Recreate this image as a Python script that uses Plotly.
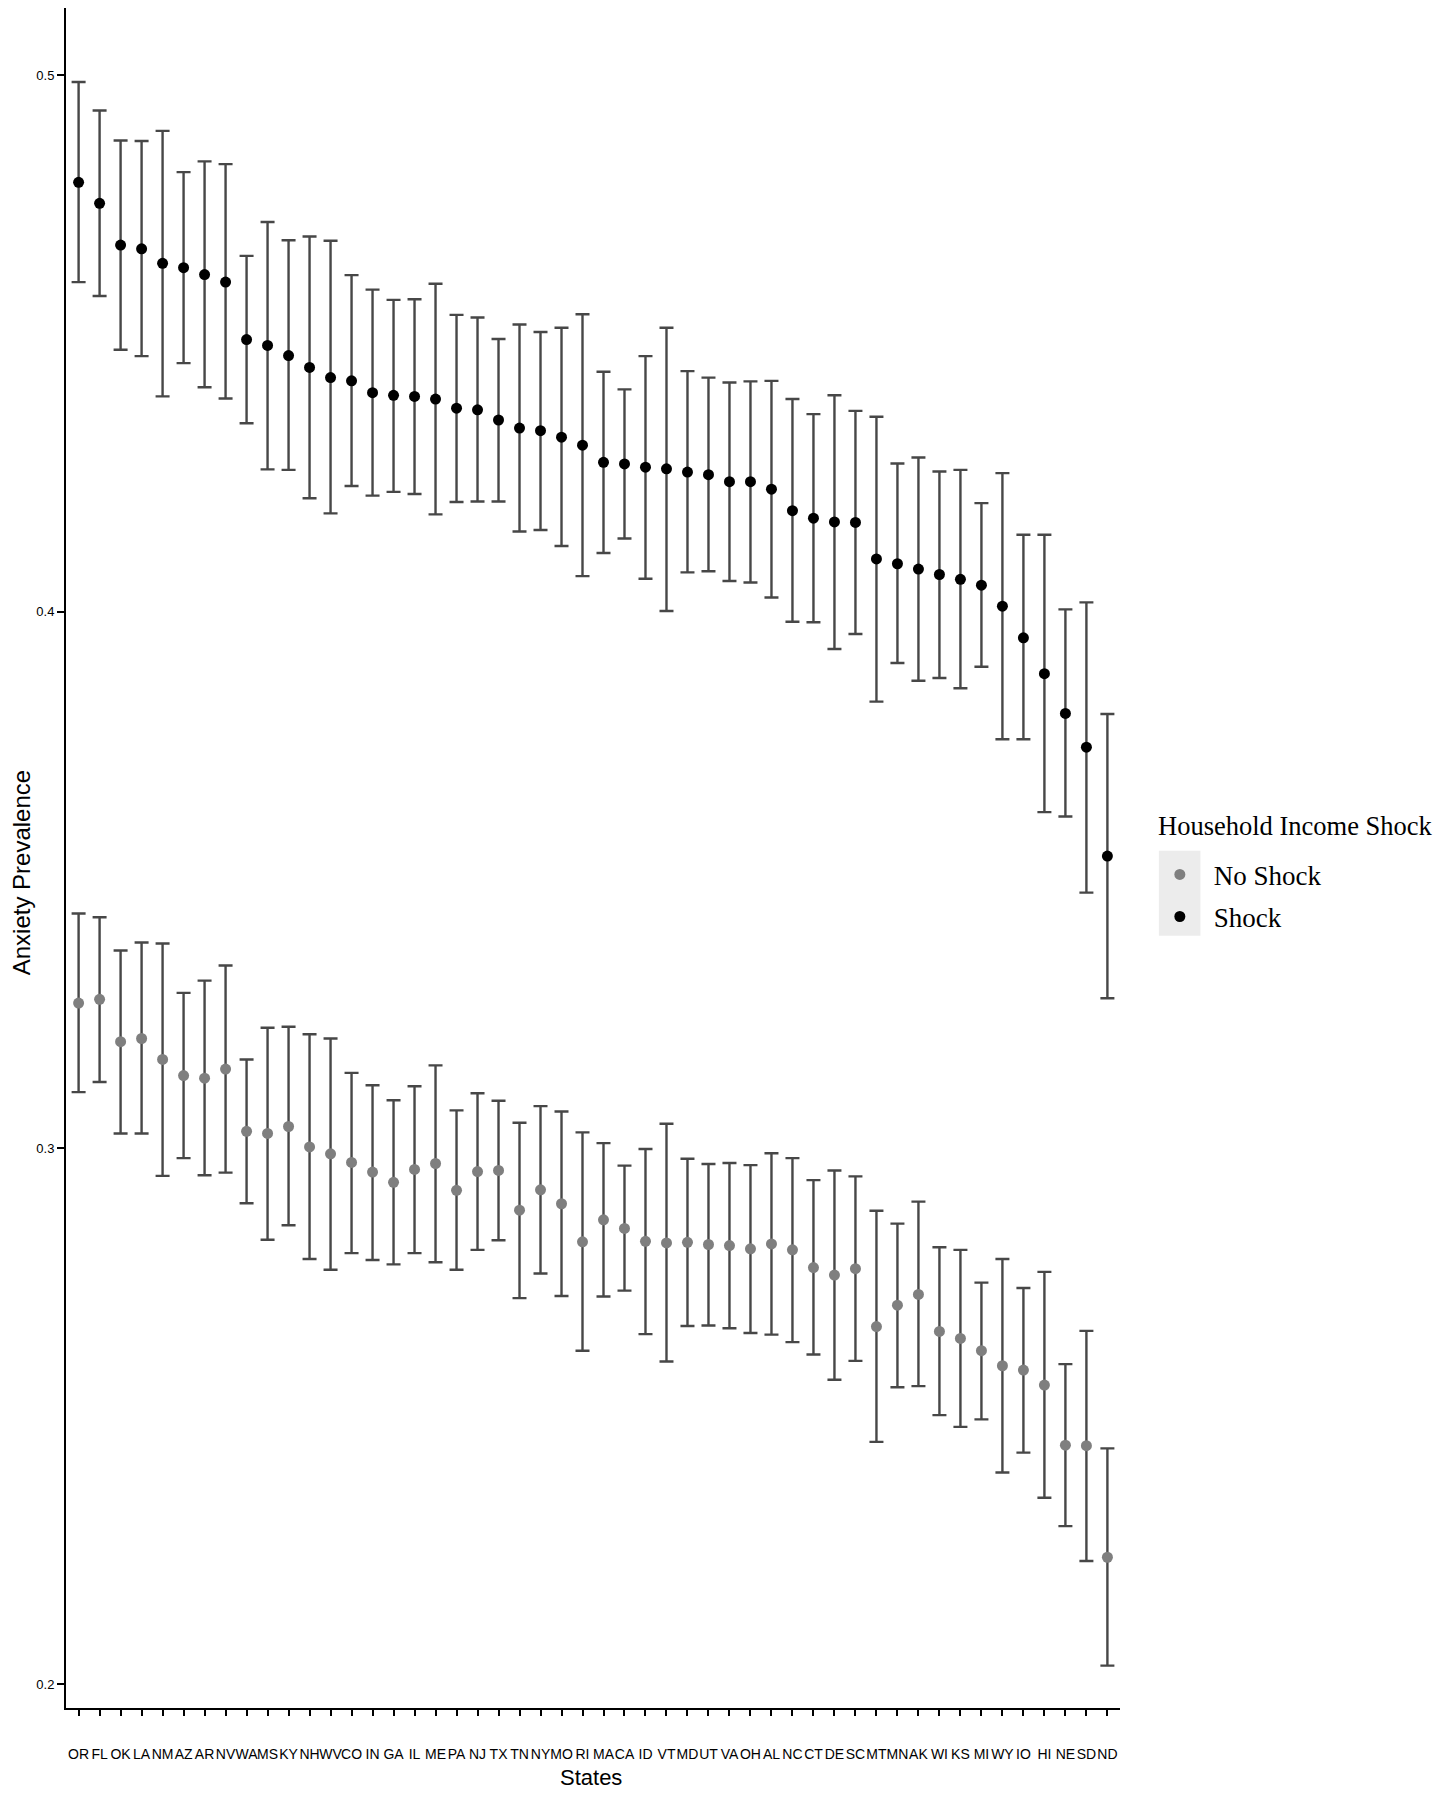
import plotly.graph_objects as go

states = ["OR","FL","OK","LA","NM","AZ","AR","NV","WA","MS","KY","NH","WV","CO","IN","GA","IL","ME","PA","NJ",
          "TX","TN","NY","MO","RI","MA","CA","ID","VT","MD","UT","VA","OH","AL","NC","CT","DE","SC","MT","MN",
          "AK","WI","KS","MI","WY","IO","HI","NE","SD","ND"]

shock_mean = [0.4800,0.4761,0.4683,0.4676,0.4649,0.4641,0.4628,0.4614,0.4507,0.4496,0.4477,0.4455,0.4436,0.4430,
              0.4408,0.4403,0.4401,0.4396,0.4379,0.4376,0.4357,0.4342,0.4337,0.4325,0.4310,0.4278,0.4275,0.4269,
              0.4266,0.4260,0.4255,0.4242,0.4242,0.4228,0.4188,0.4174,0.4167,0.4166,0.4098,0.4089,0.4079,0.4069,
              0.4060,0.4049,0.4010,0.3951,0.3884,0.3810,0.3747,0.3544]
shock_low = [0.4614,0.4588,0.4488,0.4476,0.4401,0.4463,0.4418,0.4397,0.4351,0.4265,0.4264,0.4211,0.4183,0.4234,
             0.4216,0.4223,0.4219,0.4181,0.4204,0.4205,0.4205,0.4149,0.4152,0.4122,0.4066,0.4109,0.4136,0.4061,
             0.4001,0.4073,0.4075,0.4057,0.4054,0.4026,0.3981,0.3980,0.3930,0.3958,0.3832,0.3904,0.3871,0.3876,
             0.3857,0.3897,0.3762,0.3762,0.3626,0.3618,0.3476,0.3279]
shock_high = [0.4987,0.4934,0.4878,0.4877,0.4896,0.4819,0.4839,0.4834,0.4663,0.4726,0.4692,0.4699,0.4691,0.4627,
              0.4600,0.4581,0.4582,0.4611,0.4553,0.4548,0.4508,0.4535,0.4521,0.4529,0.4554,0.4447,0.4414,0.4476,
              0.4529,0.4448,0.4436,0.4427,0.4429,0.4430,0.4396,0.4368,0.4403,0.4374,0.4363,0.4276,0.4287,0.4261,
              0.4264,0.4202,0.4258,0.4143,0.4143,0.4004,0.4017,0.3809]

noshock_mean = [0.3270,0.3277,0.3198,0.3204,0.3165,0.3135,0.3130,0.3147,0.3031,0.3027,0.3040,0.3002,0.2989,0.2973,
                0.2955,0.2936,0.2960,0.2971,0.2921,0.2956,0.2958,0.2884,0.2922,0.2896,0.2825,0.2866,0.2850,0.2826,
                0.2823,0.2824,0.2820,0.2818,0.2812,0.2821,0.2810,0.2777,0.2763,0.2775,0.2667,0.2707,0.2727,0.2658,
                0.2645,0.2622,0.2594,0.2586,0.2558,0.2446,0.2445,0.2237]
noshock_low = [0.3104,0.3123,0.3027,0.3027,0.2948,0.2981,0.2949,0.2954,0.2897,0.2829,0.2856,0.2793,0.2773,0.2804,
               0.2791,0.2783,0.2804,0.2787,0.2773,0.2810,0.2828,0.2720,0.2766,0.2724,0.2622,0.2723,0.2734,0.2653,
               0.2602,0.2668,0.2669,0.2664,0.2655,0.2652,0.2638,0.2615,0.2568,0.2603,0.2452,0.2554,0.2556,0.2502,
               0.2480,0.2494,0.2395,0.2432,0.2348,0.2295,0.2230,0.2035]
noshock_high = [0.3437,0.3430,0.3368,0.3383,0.3381,0.3289,0.3312,0.3340,0.3165,0.3224,0.3226,0.3212,0.3204,0.3140,
                0.3117,0.3089,0.3115,0.3154,0.3070,0.3102,0.3088,0.3047,0.3078,0.3068,0.3029,0.3009,0.2967,0.2998,
                0.3045,0.2980,0.2970,0.2972,0.2968,0.2990,0.2981,0.2940,0.2958,0.2947,0.2883,0.2859,0.2900,0.2815,
                0.2810,0.2749,0.2793,0.2739,0.2769,0.2597,0.2659,0.2440]

y_ticks = [0.2, 0.3, 0.4, 0.5]
y_tick_labels = ["0.2", "0.3", "0.4", "0.5"]

ERR_COLOR = "#474747"
SANS = "Liberation Sans, Arial, sans-serif"
SERIF = "Liberation Serif, Times New Roman, serif"


def make_trace(name, mean, low, high, color, group):
    return go.Scatter(
        x=states, y=mean, name=name, mode="markers", legendgroup=group,
        marker=dict(color=color, size=11, line=dict(width=0)),
        error_y=dict(type="data", symmetric=False,
                     array=[h - m for h, m in zip(high, mean)],
                     arrayminus=[m - l for m, l in zip(mean, low)],
                     color=ERR_COLOR, thickness=2.4, width=7),
    )


fig = go.Figure()
fig.add_trace(make_trace("No Shock", noshock_mean, noshock_low, noshock_high, "#7f7f7f", "a"))
fig.add_trace(make_trace("Shock", shock_mean, shock_low, shock_high, "#000000", "b"))

# grey legend key background
fig.add_shape(type="rect", xref="paper", yref="paper", x0=1.0369, x1=1.0763, y0=0.4543, y1=0.5043,
              fillcolor="#ececec", line=dict(width=0), layer="below")

# legend title
fig.add_annotation(text="Household Income Shock", xref="paper", yref="paper", x=1.0337, y=0.5186,
                   xanchor="left", yanchor="middle", showarrow=False,
                   font=dict(family=SERIF, size=26.5, color="black"))
# axis titles
fig.add_annotation(text="States", xref="paper", yref="paper", x=0.498, y=-0.0409,
                   xanchor="center", yanchor="middle", showarrow=False,
                   font=dict(family=SANS, size=22, color="black"))
fig.add_annotation(text="Anxiety Prevalence", xref="paper", yref="paper", x=-0.0427, y=0.4916,
                   xanchor="center", yanchor="middle", showarrow=False, textangle=-90,
                   font=dict(family=SANS, size=24, color="black"))

fig.update_layout(
    width=1433, height=1784,
    margin=dict(l=58, r=321.4, t=0, b=83.5),
    paper_bgcolor="white", plot_bgcolor="white",
    font=dict(family=SANS, color="black"),
    showlegend=True,
    legend=dict(
        font=dict(family=SERIF, size=27, color="black"),
        x=1.0245, xanchor="left", y=0.5045, yanchor="top",
        xref="paper", yref="paper",
        bgcolor="rgba(0,0,0,0)", itemwidth=58,
        tracegroupgap=4, traceorder="grouped",
    ),
    xaxis=dict(
        type="category", range=[-0.6, 49.6], showgrid=False, zeroline=False,
        showline=True, linecolor="black", linewidth=2,
        tickmode="linear", tick0=0, dtick=1, tickangle=0,
        ticks="outside", ticklen=6, tickwidth=1.5, tickcolor="black",
        tickfont=dict(size=14, color="black", family=SANS),
        ticklabelstandoff=26,
        automargin=False,
    ),
    yaxis=dict(
        range=[0.1956, 0.5125], showgrid=False, zeroline=False,
        showline=True, linecolor="black", linewidth=2,
        ticks="outside", ticklen=7, tickwidth=1.5, tickcolor="black",
        tickvals=y_ticks, ticktext=y_tick_labels,
        tickfont=dict(size=13, color="black", family=SANS),
        automargin=False,
    ),
)

fig.write_html("out.html")
